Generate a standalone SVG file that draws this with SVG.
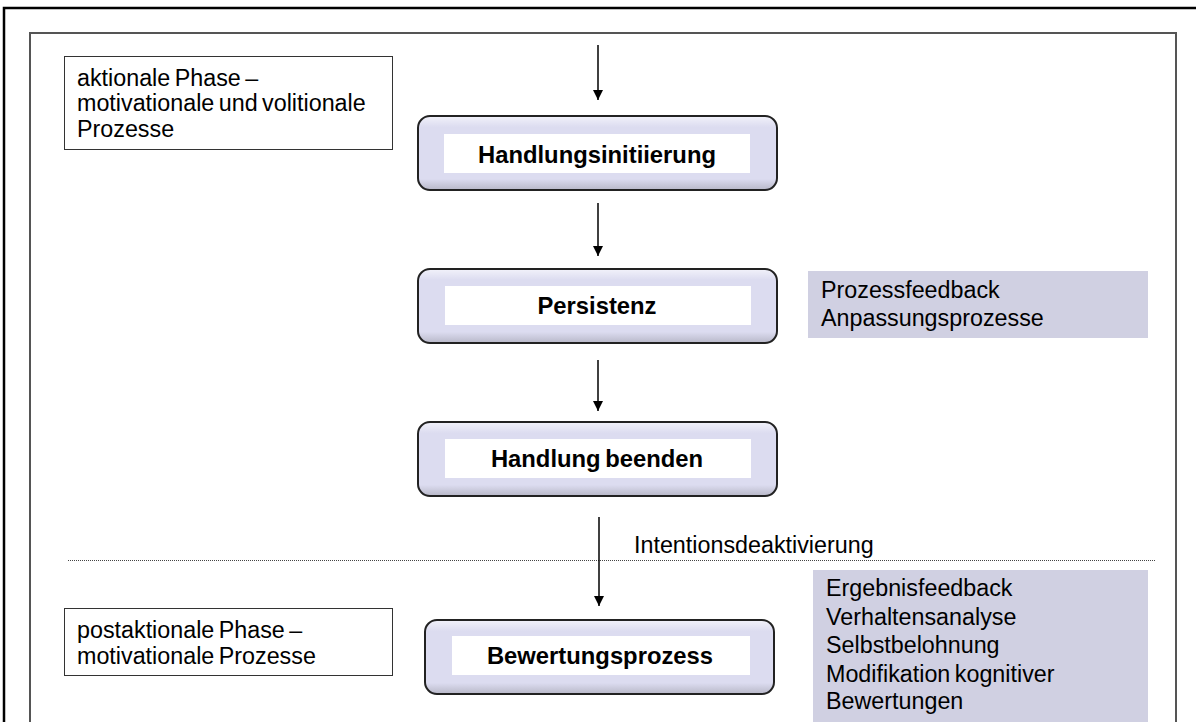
<svg xmlns="http://www.w3.org/2000/svg" width="1196" height="722" viewBox="0 0 1196 722">
<defs>
<linearGradient id="nodeGrad" x1="0" y1="0" x2="0" y2="1">
<stop offset="0" stop-color="#f2f2fa"/>
<stop offset="0.15" stop-color="#dcdcf0"/>
<stop offset="0.85" stop-color="#dcdcf0"/>
<stop offset="1" stop-color="#b8b8c8"/>
</linearGradient>
<marker id="arr" viewBox="0 0 10 10" refX="10" refY="5" markerWidth="10" markerHeight="10" markerUnits="userSpaceOnUse" orient="auto">
<path d="M0,0 L10,5 L0,10 Z" fill="#000"/>
</marker>
<style>
.lbl{fill:#fff;stroke:#333;stroke-width:1}
.txt{font-family:"Liberation Sans",Arial,sans-serif;font-size:23.3px;fill:#000;word-spacing:-2px}
.btxt{font-family:"Liberation Sans",Arial,sans-serif;font-size:23.8px;font-weight:bold;fill:#000;text-anchor:middle;word-spacing:-2px}
.node{fill:url(#nodeGrad);stroke:#222;stroke-width:2}
.inner{fill:#fff}
.side{fill:#d0d0e2}
.conn{stroke:#000;stroke-width:1.5;fill:none;marker-end:url(#arr)}
</style>
</defs>
<rect width="1196" height="722" fill="#fff"/>
<g id="frames">
<path d="M4,722 L4,8 L1196,8" fill="none" stroke="#000" stroke-width="2.5"/>
<path d="M30,722 L30,33 L1176,33 L1176,722" fill="none" stroke="#555" stroke-width="2"/>
<line x1="68" y1="560.5" x2="1155" y2="560.5" stroke="#444" stroke-width="1" stroke-dasharray="1,1"/>
</g>
<g id="label-aktional">
<rect class="lbl" x="64.5" y="56.5" width="328" height="93"/>
<text class="txt" x="77" y="86">aktionale Phase –</text>
<text class="txt" x="77" y="111">motivationale und volitionale</text>
<text class="txt" x="77" y="137">Prozesse</text>
</g>
<g id="label-postaktional">
<rect class="lbl" x="64.5" y="608.5" width="328" height="67"/>
<text class="txt" x="77" y="638">postaktionale Phase –</text>
<text class="txt" x="77" y="664">motivationale Prozesse</text>
</g>
<g id="node-initiierung">
<rect class="node" x="418" y="116" width="359" height="74" rx="12"/>
<rect class="inner" x="444" y="134" width="306" height="39"/>
<text class="btxt" x="597" y="163">Handlungsinitiierung</text>
</g>
<g id="node-persistenz">
<rect class="node" x="418" y="269" width="359" height="74" rx="12"/>
<rect class="inner" x="445" y="286" width="306" height="39"/>
<text class="btxt" x="597" y="314">Persistenz</text>
</g>
<g id="node-beenden">
<rect class="node" x="418" y="422" width="359" height="74" rx="12"/>
<rect class="inner" x="445" y="439" width="306" height="39"/>
<text class="btxt" x="597" y="467">Handlung beenden</text>
</g>
<g id="node-bewertung">
<rect class="node" x="425" y="620" width="349" height="74" rx="12"/>
<rect class="inner" x="452" y="636" width="298" height="39"/>
<text class="btxt" x="600" y="664">Bewertungsprozess</text>
</g>
<g id="side-prozess">
<rect class="side" x="808" y="271" width="340" height="67"/>
<text class="txt" x="821" y="298">Prozessfeedback</text>
<text class="txt" x="821" y="326">Anpassungsprozesse</text>
</g>
<g id="side-ergebnis">
<rect class="side" x="813" y="570" width="335" height="152"/>
<text class="txt" x="826" y="596">Ergebnisfeedback</text>
<text class="txt" x="826" y="625">Verhaltensanalyse</text>
<text class="txt" x="826" y="653">Selbstbelohnung</text>
<text class="txt" x="826" y="682">Modifikation kognitiver</text>
<text class="txt" x="826" y="709">Bewertungen</text>
</g>
<g id="connectors">
<line class="conn" x1="598" y1="45" x2="598" y2="100"/>
<line class="conn" x1="598" y1="203" x2="598" y2="256"/>
<line class="conn" x1="598" y1="360" x2="598" y2="411"/>
<line class="conn" x1="599" y1="517" x2="599" y2="606"/>
<text class="txt" x="634" y="553">Intentionsdeaktivierung</text>
</g>
</svg>
